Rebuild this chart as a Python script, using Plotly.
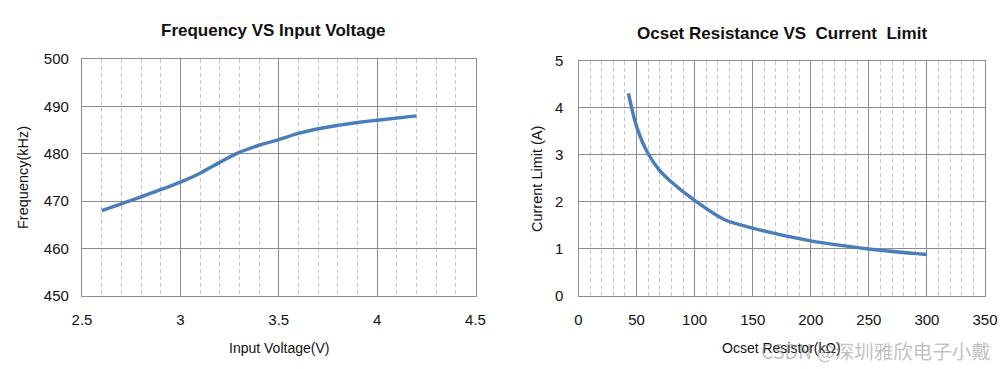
import plotly.graph_objects as go

# Left chart data: Frequency vs Input Voltage
volt = [2.6, 2.8, 3.0, 3.1, 3.2, 3.3, 3.4, 3.5, 3.6, 3.7, 3.8, 3.9, 4.0, 4.2]
freq = [468.0, 470.9, 474.0, 475.9, 478.2, 480.3, 481.8, 483.0, 484.3, 485.3, 486.0, 486.6, 487.1, 488.0]

# Right chart data: Current limit vs Ocset resistance
res = [43, 50, 60, 70, 80, 100, 125, 150, 200, 250, 300]
ilim = [4.3, 3.6, 3.02, 2.66, 2.42, 2.03, 1.63, 1.44, 1.17, 1.0, 0.88]

W, H = 1008, 369
LINE = "#4a7ebb"
FONT = "Liberation Sans, Arial, sans-serif"

def px(x):
    return x / W

def py(y):
    return 1 - y / H

fig = go.Figure()
fig.add_trace(go.Scatter(x=volt, y=freq, mode="lines", line=dict(color=LINE, width=3.5, shape="spline", smoothing=0.8),
                         xaxis="x", yaxis="y", showlegend=False))
fig.add_trace(go.Scatter(x=res, y=ilim, mode="lines", line=dict(color=LINE, width=3.5, shape="spline", smoothing=0.8),
                         xaxis="x2", yaxis="y2", showlegend=False))

axcommon = dict(showline=True, mirror=True, linecolor="#8c8c8c", linewidth=1.2,
                gridcolor="#8c8c8c", gridwidth=1, zeroline=False,
                tickfont=dict(family=FONT, size=15, color="#111"),
                ticks="outside", tickcolor="rgba(0,0,0,0)")
minor_common = dict(showgrid=True, gridcolor="#c4c4c4", griddash="4px,3px", gridwidth=1)

fig.update_layout(
    width=W, height=H, margin=dict(l=0, r=0, t=0, b=0, autoexpand=False),
    paper_bgcolor="white", plot_bgcolor="white",
    xaxis=dict(domain=[px(82), px(475.5)], range=[2.5, 4.5], dtick=0.5, anchor="y", ticklen=10,
               minor=dict(dtick=0.1, **minor_common), **axcommon),
    yaxis=dict(domain=[py(296), py(59)], range=[450, 500], dtick=10, anchor="x", ticklen=9, **axcommon),
    xaxis2=dict(domain=[px(578.5), px(985)], range=[0, 350], dtick=50, anchor="y2", ticklen=10,
                minor=dict(dtick=10, **minor_common), **axcommon),
    yaxis2=dict(domain=[py(296), py(60.5)], range=[0, 5], dtick=1, anchor="x2", ticklen=11, **axcommon),
)

def note(text, x, y, size=14, angle=0, xanchor="center", family=FONT, color="#111"):
    return dict(text=text, x=px(x), y=py(y), xref="paper", yref="paper", xanchor=xanchor, yanchor="middle",
                textangle=angle, showarrow=False, font=dict(family=family, size=size, color=color))

ann = [
    note("<b>Frequency VS Input Voltage</b>", 273, 30, size=17),
    note("<b>Ocset Resistance VS  Current  Limit</b>", 782, 33, size=17),
    note("Input Voltage(V)", 279, 348),
    note("Ocset Resistor(kΩ)", 781, 348),
    note("Frequency(kHz)", 23, 178, size=14.5, angle=-90),
    note("Current Limit (A)", 537, 179, size=14.5, angle=-90),
    note("CSDN @深圳雅欣电子小戴", 993, 350, size=19.5, xanchor="right",
         family="Noto Sans CJK SC, sans-serif", color="rgba(140,140,140,0.55)"),
]
fig.update_layout(annotations=ann)

fig.write_html("out.html", config={"displayModeBar": False},
               post_script="document.body.style.margin='0';document.body.style.overflow='hidden';")
